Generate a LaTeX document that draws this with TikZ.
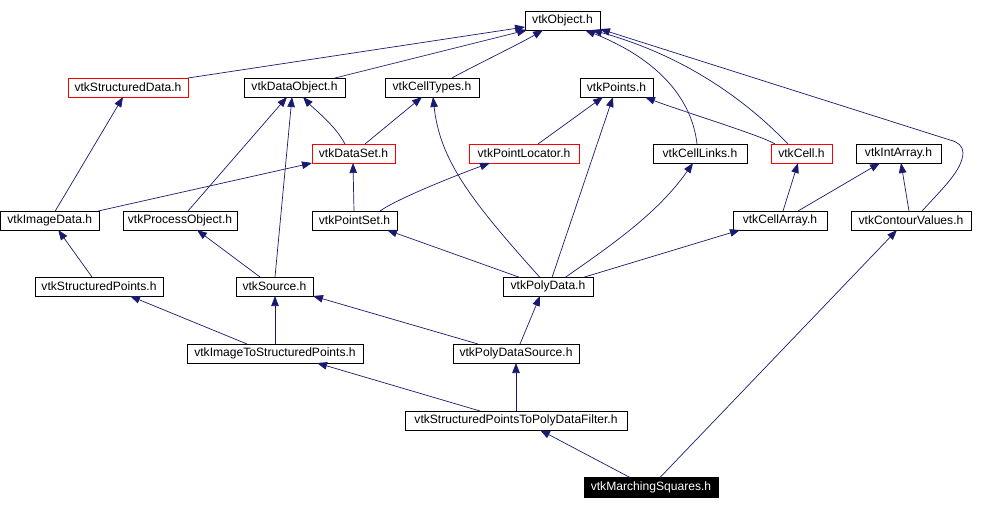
\documentclass[tikz,border=0pt]{standalone}
\usepackage{fontspec}
\setmainfont{Liberation Sans}
\usetikzlibrary{arrows.meta}
\definecolor{edgeblue}{HTML}{191970}
\definecolor{boxred}{HTML}{FF0000}
\begin{document}
\begin{tikzpicture}[x=1pt,y=-1pt,
  box/.style={draw=black, line width=0.8pt, fill=white, inner sep=0pt, minimum height=19pt, font=\fontsize{12.1}{13}\selectfont, text=black},
  redbox/.style={box, draw=boxred},
  mainbox/.style={box, fill=black, text=white, minimum height=19.5pt},
  edge/.style={draw=edgeblue, line width=0.7pt, -{Triangle[length=10pt,width=7.5pt]}}
]
\useasboundingbox (0,0) rectangle (994,509);
% nodes
\node[box, minimum width=75pt] (obj) at (562.5,20.5) {vtkObject.h};
\node[redbox, minimum width=120pt] (sdata) at (128,87.5) {vtkStructuredData.h};
\node[box, minimum width=101pt] (dobj) at (294.5,87.5) {vtkDataObject.h};
\node[box, minimum width=94pt] (ctypes) at (432,87.5) {vtkCellTypes.h};
\node[box, minimum width=73pt] (points) at (616.5,87.5) {vtkPoints.h};
\node[redbox, minimum width=83pt] (dset) at (353.5,153.5) {vtkDataSet.h};
\node[redbox, minimum width=110pt] (ploc) at (524,153.5) {vtkPointLocator.h};
\node[box, minimum width=94pt] (clinks) at (700,153.5) {vtkCellLinks.h};
\node[redbox, minimum width=61pt] (cell) at (801.5,153.5) {vtkCell.h};
\node[box, minimum width=85pt] (iarr) at (898.5,153.5) {vtkIntArray.h};
\node[box, minimum width=98.5pt] (idata) at (49.75,220.5) {vtkImageData.h};
\node[box, minimum width=114pt] (pobj) at (180,220.5) {vtkProcessObject.h};
\node[box, minimum width=85pt] (pset) at (354.5,220.5) {vtkPointSet.h};
\node[box, minimum width=94pt] (carr) at (780,220.5) {vtkCellArray.h};
\node[box, minimum width=120pt] (cval) at (911,220.5) {vtkContourValues.h};
\node[box, minimum width=128pt] (spts) at (99,286.5) {vtkStructuredPoints.h};
\node[box, minimum width=77pt] (src) at (274.5,286.5) {vtkSource.h};
\node[box, minimum width=90pt] (pdata) at (548,286.5) {vtkPolyData.h};
\node[box, minimum width=176pt] (its) at (275,353.5) {vtkImageToStructuredPoints.h};
\node[box, minimum width=126pt] (pds) at (516,353.5) {vtkPolyDataSource.h};
\node[box, minimum width=222pt] (sptpdf) at (516,420.5) {vtkStructuredPointsToPolyDataFilter.h};
\node[mainbox, minimum width=134pt] (ms) at (651,487.25) {vtkMarchingSquares.h};
% edges (child -> parent)
\draw[edge] ([shift={(60,-9.5)}]sdata.center) -- ([shift={(-37.5,6.5)}]obj.center);
\draw[edge] ([shift={(40.5,-9.5)}]dobj.center) -- ([shift={(-35.5,9.5)}]obj.center);
\draw[edge] ([shift={(20,-9.5)}]ctypes.center) .. controls +(10,-6) and +(-20,12) .. ([shift={(-19.5,9.5)}]obj.center);
\draw[edge] ([shift={(-3,-9.5)}]clinks.center) .. controls +(-5,-44) and +(75,30) .. ([shift={(22.5,9.5)}]obj.center);
\draw[edge] ([shift={(-13.5,-9.5)}]cell.center) .. controls +(-28,-29) and +(108,30) .. ([shift={(29.5,9.5)}]obj.center);
\draw[edge] ([shift={(11,-9.5)}]cval.center) .. controls +(23,-25) and +(-1,17) .. (963,153) .. controls +(0,-7) and +(8,2) .. (950,140) -- ([shift={(37.5,8.5)}]obj.center);
\draw[edge] ([shift={(-8.5,-9.5)}]dset.center) .. controls +(-10,-19) and +(12,13) .. ([shift={(8.5,9.5)}]dobj.center);
\draw[edge] ([shift={(11.5,-9.5)}]dset.center) -- ([shift={(-10,9.5)}]ctypes.center);
\draw[edge] ([shift={(8,-9.5)}]pobj.center) -- ([shift={(-7.5,9.5)}]dobj.center);
\draw[edge] ([shift={(0.5,-9.5)}]src.center) -- ([shift={(-2.5,9.5)}]dobj.center);
\draw[edge] ([shift={(5.5,-9.5)}]idata.center) -- ([shift={(-5,9.5)}]sdata.center);
\draw[edge] ([shift={(48.5,-9.5)}]idata.center) -- ([shift={(-41.5,9.5)}]dset.center);
\draw[edge] ([shift={(-0.5,-9.5)}]pset.center) -- ([shift={(-0.5,9.5)}]dset.center);
\draw[edge] ([shift={(25.5,-9.5)}]pset.center) .. controls +(20,-14) and +(-25,9) .. ([shift={(-34,9.5)}]ploc.center);
\draw[edge] ([shift={(14,-9.5)}]ploc.center) -- ([shift={(-13.5,9.5)}]points.center);
\draw[edge] ([shift={(-26.5,-9.5)}]cell.center) .. controls +(-12,-8) and +(30,12) .. ([shift={(28.5,9.5)}]points.center);
\draw[edge] ([shift={(4,-9)}]pdata.center) -- ([shift={(-3.5,9.5)}]points.center);
\draw[edge] ([shift={(-8,-9)}]pdata.center) .. controls +(-70,-78) and +(7,63) .. ([shift={(1,9.5)}]ctypes.center);
\draw[edge] ([shift={(-28,-9)}]pdata.center) -- ([shift={(32.5,9.5)}]pset.center);
\draw[edge] ([shift={(17,-9)}]pdata.center) .. controls +(55,-38) and +(-33,47) .. ([shift={(-7,9.5)}]clinks.center);
\draw[edge] ([shift={(35,-9)}]pdata.center) -- ([shift={(-40,9.5)}]carr.center);
\draw[edge] ([shift={(3,-9.5)}]carr.center) -- ([shift={(-3.5,9.5)}]cell.center);
\draw[edge] ([shift={(18,-9.5)}]carr.center) -- ([shift={(-18.5,9.5)}]iarr.center);
\draw[edge] ([shift={(-2,-9.5)}]cval.center) -- ([shift={(2.5,9.5)}]iarr.center);
\draw[edge] ([shift={(-7,-9.5)}]spts.center) -- ([shift={(8.5,9.5)}]idata.center);
\draw[edge] ([shift={(-14.5,-9.5)}]src.center) -- ([shift={(17,9.5)}]pobj.center);
\draw[edge] ([shift={(-28,-9.5)}]its.center) -- ([shift={(31,9.5)}]spts.center);
\draw[edge] ([shift={(0,-9.5)}]its.center) -- ([shift={(0.5,9.5)}]src.center);
\draw[edge] ([shift={(-38,-9.5)}]pds.center) -- ([shift={(38.5,9.5)}]src.center);
\draw[edge] ([shift={(4,-9.5)}]pds.center) -- ([shift={(-8,9.5)}]pdata.center);
\draw[edge] ([shift={(-36,-9.5)}]sptpdf.center) -- ([shift={(42,9.5)}]its.center);
\draw[edge] ([shift={(0,-9.5)}]sptpdf.center) -- ([shift={(0,9.5)}]pds.center);
\draw[edge] ([shift={(-21,-9.75)}]ms.center) -- ([shift={(24,9.5)}]sptpdf.center);
\draw[edge] ([shift={(9,-9.75)}]ms.center) -- ([shift={(-14,9.5)}]cval.center);
\end{tikzpicture}
\end{document}
